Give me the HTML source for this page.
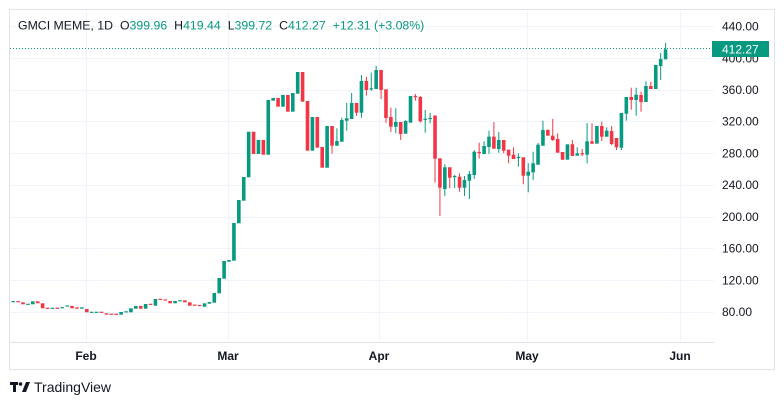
<!DOCTYPE html>
<html><head><meta charset="utf-8"><style>
html,body{margin:0;padding:0;background:#fff;width:784px;height:405px;overflow:hidden}
svg{position:absolute;left:0;top:0}
text{font-family:"Liberation Sans",sans-serif}
</style></head><body>
<svg id="s" width="784" height="405" xmlns="http://www.w3.org/2000/svg">
<rect x="9.5" y="9.5" width="765" height="360" fill="#fff" stroke="#e0e3eb"/>
<g stroke="#f0f3fa" stroke-width="1">
<line x1="10" x2="714" y1="26.5" y2="26.5"/><line x1="10" x2="714" y1="58.5" y2="58.5"/>
<line x1="10" x2="714" y1="90.5" y2="90.5"/><line x1="10" x2="714" y1="121.5" y2="121.5"/>
<line x1="10" x2="714" y1="153.5" y2="153.5"/><line x1="10" x2="714" y1="185.5" y2="185.5"/>
<line x1="10" x2="714" y1="217.5" y2="217.5"/><line x1="10" x2="714" y1="248.5" y2="248.5"/>
<line x1="10" x2="714" y1="280.5" y2="280.5"/><line x1="10" x2="714" y1="312.5" y2="312.5"/>
<line x1="86.5" x2="86.5" y1="10" y2="342"/><line x1="228.5" x2="228.5" y1="10" y2="342"/>
<line x1="379.5" x2="379.5" y1="10" y2="342"/><line x1="527.5" x2="527.5" y1="10" y2="342"/>
<line x1="680.5" x2="680.5" y1="10" y2="342"/>
</g>
<line x1="10" x2="714" y1="342.5" y2="342.5" stroke="#e0e3eb"/>
<g id="c"></g>
<line x1="10" x2="712" y1="48.5" y2="48.5" stroke="#089981" stroke-dasharray="1,2"/>
<g font-size="12" fill="#131722">
<text x="722" y="30.5">440.00</text><text x="722" y="62.5">400.00</text>
<text x="722" y="94">360.00</text><text x="722" y="125.5">320.00</text>
<text x="722" y="157.5">280.00</text><text x="722" y="189">240.00</text>
<text x="722" y="221">200.00</text><text x="722" y="252.5">160.00</text>
<text x="722" y="284.5">120.00</text><text x="722" y="316">80.00</text>
</g>
<rect x="712" y="41" width="57" height="16" fill="#089981"/>
<text x="722" y="53.5" font-size="12" fill="#fff">412.27</text>
<g font-size="12" font-weight="bold" fill="#131722" text-anchor="middle">
<text x="86" y="360">Feb</text><text x="228" y="360">Mar</text>
<text x="379" y="360">Apr</text><text x="527" y="360">May</text><text x="680" y="360">Jun</text>
</g>
<text x="18" y="29.5" font-size="12.3" fill="#131722">GMCI MEME, 1D<tspan dx="7">O</tspan><tspan fill="#089981">399.96</tspan><tspan dx="7">H</tspan><tspan fill="#089981">419.44</tspan><tspan dx="7">L</tspan><tspan fill="#089981">399.72</tspan><tspan dx="7">C</tspan><tspan fill="#089981">412.27</tspan><tspan dx="7" fill="#089981">+12.31 (+3.08%)</tspan></text>
<g fill="#131722"><rect x="10" y="382" width="8" height="3"/><rect x="13" y="382" width="3" height="10"/><circle cx="20.5" cy="384" r="1.8"/><path d="M22 392 L26 382 L30 382 L26 392Z"/></g>
<text x="34" y="392" font-size="14" fill="#131722">TradingView</text>
</svg>
<script>
var D=[
[301.7,301.7,0,0,'g'],[301.7,301.7,0,0,'r'],[302.3,304.3],[304.3,304.3,0,0,'g'],[304.3,301.3],[301.3,303.3],[303.3,308.3],[308.3,308.3,0,0,'r'],[308.3,308.3,0,0,'g'],[308.3,308.3,0,0,'r'],
[307.7,307.7,0,0,'g'],[306,306,0,0,'g'],[306,308.3],[307.3,308.7],[308.7,307.3],[309,312.3],[312.3,312.3,0,0,'g'],[312.3,312.3,0,0,'g'],[312.3,312.3,0,0,'r'],[313.3,314.7],
[314.3,314.3,0,0,'r'],[314.3,314.3,0,0,'r'],[314.7,312],[312,311.7],[312.3,308.3],[308.7,306],[306,308.7],[308.7,304],[304,304.7],[305.7,299],
[299,299.7],[300,300,0,0,'r'],[301,303.3],[303.3,301],[301.3,300.3],[300.3,302.3],[302.3,305.7],[305,305.3],[305.3,305.7],[306.7,303.3],
[303.7,302],[302.7,293],[293.3,278],[278.7,261],[261.7,260],[260.7,223],[223.3,200],[200.7,177],[177.3,131.7],[131.7,154],
[154,140],[140,154.7],[154.7,100],[100.7,98],[98,106.7],[106.7,95],[95,111.7],[111.7,93],[93.7,72],[72,101.7],
[101,150.7],[150.7,117],[117,147.7],[147,167.7],[167.7,126],[126,145.7,0,153.7],[145.7,141,128.3,0],[141.7,120,117.7,0],[120.7,118.3,102.7,130.7],[119,103,93,0],
[103,112.7,0,116],[112.7,81,75,117.7],[81,90,76.7,95.7],[89,88.7,72.7,90.7],[89,70,65.7,0],[70,90,0,99],[89.3,118,0,122.7],[117,126.7,107.7,132],[126.7,122,108.3,133.3],[122,134,0,140],
[133.7,121,120.3,0],[122.7,96,0,0],[96,97,94,100.7],[97,121.3,96,122.7],[119.5,119,110,132.7],[118.8,118.3,112.7,123.3],[115.7,158.7,115,182.7],[158.3,187.7,0,216],[189,167.3,164.3,196],[167.3,177.7,0,188.3],
[176.8,176.3,175,188],[176.7,187.7,173.3,191.7],[187.7,180,176,196],[180.7,174,171,199],[175,151.7,150.3,179],[152,153,142.7,158.7],[154,146,141.3,0],[147,136.7,130.7,154],[136.7,148.7,122,0],[149,140,132,152.7],
[140,150.7,0,153.3],[149.7,155.7,0,163.3],[154.7,159,147.3,0],[157.8,157.3,153.3,166.7],[157.3,175.7,0,184.3],[175.7,171.7,163.3,192.3],[172.3,163.3,151.7,180],[164.7,144.7,143,0],[145.7,130,120.7,0],[130,135.7,129.3,0],
[135.7,140,119,141],[139,152.7,133.3,0],[152,159.7,0,160],[159.7,144.3,0,0],[144.3,156,140,0],[155.7,153.3,147.3,0],[153.3,154.3,149,156],[154.7,141.3,123,163.3],[141.3,143.7,123.3,0],[143.7,126,0,0],
[126,136.7,121.7,141],[136.7,130.7,127.3,0],[131,144,126,145],[138,147.3,0,150],[147.7,113,0,150],[113.7,97,0,120.7],[97,100,87.7,109.7],[100,94.7,87.7,115.7],[95,102,91.7,111.7],[102,86,81.3,0],
[86,89,81.7,0],[89,65,0,0],[66,59,53,80],[59.3,49.3,43,0]
];
var g=document.getElementById('c'),h='';
for(var i=0;i<D.length;i++){var d=D[i],x=13.2+i*4.905,o=d[0],c=d[1];
var col=d[4]?(d[4]=='g'?'#089981':'#F23645'):(c<=o?'#089981':'#F23645');
var t=Math.min(o,c),b=Math.max(o,c);if(b-t<1.2){var m=(t+b)/2;t=m-0.6;b=m+0.6;}
var hi=d[2]?Math.min(d[2],t):t,lo=d[3]?Math.max(d[3],b):b;
if(hi<t||lo>b)h+='<line x1="'+x+'" x2="'+x+'" y1="'+hi+'" y2="'+lo+'" stroke="'+col+'" stroke-width="1"/>';
h+='<rect x="'+(x-1.8)+'" y="'+t+'" width="3.6" height="'+(b-t)+'" fill="'+col+'"/>';}
g.innerHTML=h;
</script>
</body></html>
